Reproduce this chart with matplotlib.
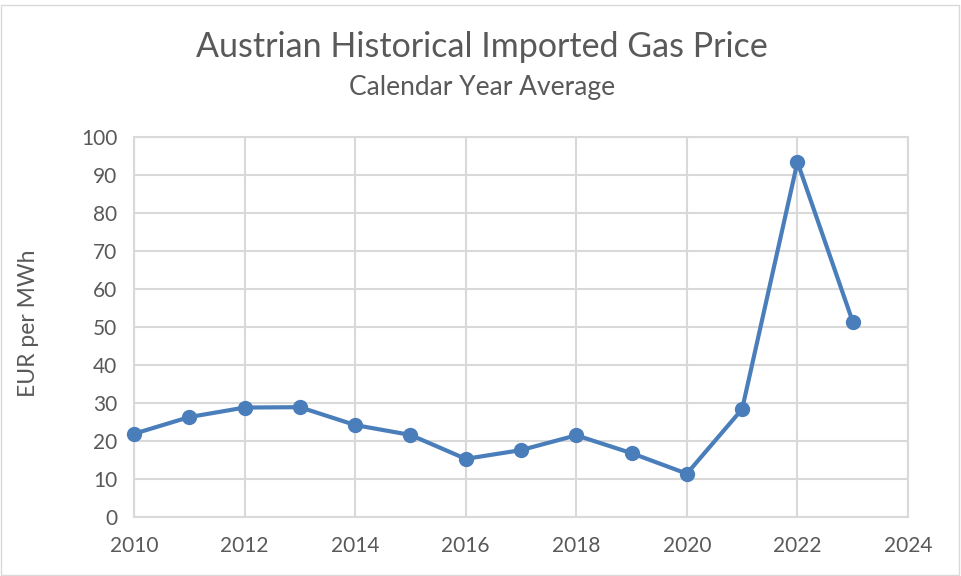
import matplotlib.pyplot as plt
from matplotlib.patches import Rectangle

years = [2010, 2011, 2012, 2013, 2014, 2015, 2016, 2017, 2018, 2019, 2020, 2021, 2022, 2023]
price = [21.9, 26.3, 28.8, 28.9, 24.2, 21.6, 15.3, 17.6, 21.5, 16.8, 11.4, 28.4, 93.4, 51.4]

x_ticks = [2010, 2012, 2014, 2016, 2018, 2020, 2022, 2024]
y_ticks = list(range(0, 101, 10))

text_col = '#595959'
grid_col = '#d9d9d9'
line_col = '#4a7ebb'

plt.rcParams['font.family'] = ['Lato', 'DejaVu Sans']

fig = plt.figure(figsize=(9.62, 5.76), dpi=100)
ax = fig.add_axes([134 / 962, 1 - 517 / 576, (908 - 134) / 962, (517 - 137) / 576])

ax.plot(years, price, color=line_col, linewidth=3, marker='o', markersize=10,
        zorder=3, clip_on=False)

ax.set_xlim(2010, 2024)
ax.set_ylim(0, 100)
ax.set_xticks(x_ticks)
ax.set_yticks(y_ticks)
ax.grid(True, color=grid_col, linewidth=1.5)
ax.set_axisbelow(True)
for s in ax.spines.values():
    s.set_color(grid_col)
    s.set_linewidth(1.5)
ax.tick_params(length=0, labelsize=15, colors=text_col)
ax.tick_params(axis='x', pad=14)
ax.tick_params(axis='y', pad=12)
ax.set_ylabel('EUR per MWh', fontsize=16.5, color=text_col)
ax.yaxis.set_label_coords(-(134 - 39) / 774, 0.51)

fig.text(482 / 962, 1 - 47 / 576, 'Austrian Historical Imported Gas Price',
         ha='center', va='center', fontsize=24.5, color=text_col)
fig.text(482 / 962, 1 - 88 / 576, 'Calendar Year Average',
         ha='center', va='center', fontsize=19, color=text_col)

# chart border
fig.patches.append(Rectangle((1 / 962, 1 / 576), 958 / 962, 1 - 6 / 576,
                             transform=fig.transFigure, fill=False,
                             edgecolor=grid_col, linewidth=1))

plt.savefig('out.png', dpi=100)
